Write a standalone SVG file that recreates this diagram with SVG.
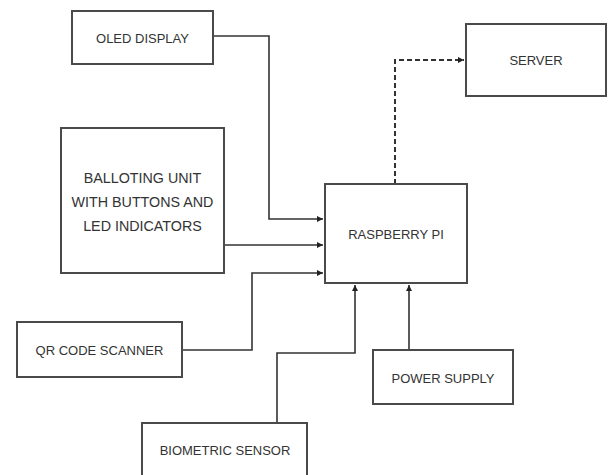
<svg xmlns="http://www.w3.org/2000/svg" width="608" height="475" viewBox="0 0 608 475">
<style>
.box{fill:#fff;stroke:#4a4a4a;stroke-width:2}
.lbl{font-family:"Liberation Sans",Arial,sans-serif;font-size:13px;fill:#333;text-anchor:middle;dominant-baseline:central}
.big{font-size:14.3px}
.ln{fill:none;stroke:#333;stroke-width:1.6}
.dash{fill:none;stroke:#333;stroke-width:2;stroke-dasharray:5,3}
</style>
<defs>
<marker id="ah" viewBox="0 0 10 10" refX="10" refY="5" markerWidth="6" markerHeight="6" markerUnits="userSpaceOnUse" orient="auto">
<path d="M0,0 L10,5 L0,10 z" fill="#222"/>
</marker>
</defs>
<rect width="608" height="475" fill="#fff"/>
<g id="connectors">
<polyline class="ln" points="213,36 269,36 269,219 323,219" marker-end="url(#ah)"/>
<polyline class="ln" points="224,245 323,245" marker-end="url(#ah)"/>
<polyline class="ln" points="182,350 252,350 252,273 323,273" marker-end="url(#ah)"/>
<polyline class="ln" points="277,423 277,353 355,353 355,285" marker-end="url(#ah)"/>
<polyline class="ln" points="409,350 409,285" marker-end="url(#ah)"/>
<polyline class="dash" points="395,184 395,60 464,60" marker-end="url(#ah)"/>
</g>
<g id="oled"><rect class="box" x="72" y="11" width="141" height="53"/><text class="lbl" x="142.5" y="38">OLED DISPLAY</text></g>
<g id="server"><rect class="box" x="466" y="24" width="140" height="72"/><text class="lbl" x="536" y="60">SERVER</text></g>
<g id="balloting"><rect class="box" x="61" y="128" width="163" height="145"/>
<text class="lbl big" x="142.5" y="178">BALLOTING UNIT</text>
<text class="lbl big" x="142.5" y="202">WITH BUTTONS AND</text>
<text class="lbl big" x="142.5" y="226">LED INDICATORS</text></g>
<g id="raspberry"><rect class="box" x="325" y="184" width="142" height="99"/><text class="lbl" x="396" y="234">RASPBERRY PI</text></g>
<g id="qr"><rect class="box" x="17" y="322" width="165" height="55"/><text class="lbl" x="99.5" y="350" font-size="13.8">QR CODE SCANNER</text></g>
<g id="power"><rect class="box" x="373" y="350" width="140" height="54"/><text class="lbl" x="443" y="378">POWER SUPPLY</text></g>
<g id="biometric"><rect class="box" x="142" y="423" width="165" height="56"/><text class="lbl" x="225" y="450" font-size="13.9">BIOMETRIC SENSOR</text></g>
</svg>
